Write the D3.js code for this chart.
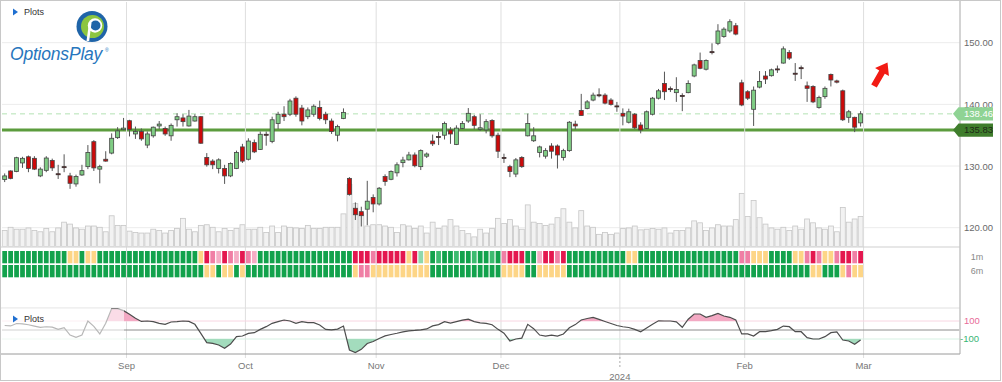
<!DOCTYPE html>
<html><head><meta charset="utf-8">
<script src="https://d3js.org/d3.v7.min.js"></script>
<style>
html,body{margin:0;padding:0;background:#fff;}
svg{display:block;font-family:"Liberation Sans",Arial,sans-serif;}
</style></head><body>
<svg id="chart" width="1002" height="382"></svg>
<script>
// ---------------- DATA ----------------
const dates = [
"2023-08-03","2023-08-04","2023-08-07","2023-08-08","2023-08-09","2023-08-10","2023-08-11","2023-08-14","2023-08-15","2023-08-16","2023-08-17","2023-08-18","2023-08-21","2023-08-22","2023-08-23","2023-08-24","2023-08-25","2023-08-28","2023-08-29","2023-08-30","2023-08-31",
"2023-09-01","2023-09-05","2023-09-06","2023-09-07","2023-09-08","2023-09-11","2023-09-12","2023-09-13","2023-09-14","2023-09-15","2023-09-18","2023-09-19","2023-09-20","2023-09-21","2023-09-22","2023-09-25","2023-09-26","2023-09-27","2023-09-28","2023-09-29",
"2023-10-02","2023-10-03","2023-10-04","2023-10-05","2023-10-06","2023-10-09","2023-10-10","2023-10-11","2023-10-12","2023-10-13","2023-10-16","2023-10-17","2023-10-18","2023-10-19","2023-10-20","2023-10-23","2023-10-24","2023-10-25","2023-10-26","2023-10-27","2023-10-30","2023-10-31",
"2023-11-01","2023-11-02","2023-11-03","2023-11-06","2023-11-07","2023-11-08","2023-11-09","2023-11-10","2023-11-13","2023-11-14","2023-11-15","2023-11-16","2023-11-17","2023-11-20","2023-11-21","2023-11-22","2023-11-24","2023-11-27","2023-11-28","2023-11-29","2023-11-30",
"2023-12-01","2023-12-04","2023-12-05","2023-12-06","2023-12-07","2023-12-08","2023-12-11","2023-12-12","2023-12-13","2023-12-14","2023-12-15","2023-12-18","2023-12-19","2023-12-20","2023-12-21","2023-12-22","2023-12-26","2023-12-27","2023-12-28","2023-12-29",
"2024-01-02","2024-01-03","2024-01-04","2024-01-05","2024-01-08","2024-01-09","2024-01-10","2024-01-11","2024-01-12","2024-01-16","2024-01-17","2024-01-18","2024-01-19","2024-01-22","2024-01-23","2024-01-24","2024-01-25","2024-01-26","2024-01-29","2024-01-30","2024-01-31",
"2024-02-01","2024-02-02","2024-02-05","2024-02-06","2024-02-07","2024-02-08","2024-02-09","2024-02-12","2024-02-13","2024-02-14","2024-02-15","2024-02-16","2024-02-20","2024-02-21","2024-02-22","2024-02-23","2024-02-26","2024-02-27","2024-02-28","2024-02-29"];

const open = [127.8,129.2,129.1,130.5,131.5,131.25,128.4,129.3,130.9,128.75,129.9,128.4,127.1,128.55,129.9,133.95,129.5,131.1,132.1,134.6,135.9,
137.35,135.2,135.6,133.4,134.9,136.5,136.1,134.9,137.5,137.8,136.5,137.3,138.0,131.4,130.8,129.6,129.6,128.4,129.6,133.1,
131.1,133.8,132.7,135.15,134.0,136.9,138.4,138.4,141.0,139.4,138.0,138.4,139.5,138.4,137.3,135.0,137.7,128.0,123.15,122.6,123.0,124.9,
123.85,128.3,127.85,128.9,130.55,131.0,131.8,129.9,131.6,134.05,134.8,135.0,135.85,133.5,136.1,137.3,138.0,135.95,135.85,137.4,135.0,
131.4,129.9,128.7,131.4,134.9,134.1,132.2,131.6,133.25,133.25,131.4,132.5,136.8,139.0,139.35,140.7,141.55,141.5,140.7,139.75,
138.55,137.1,138.4,136.65,136.1,138.4,141.0,143.4,142.55,141.9,141.45,141.9,144.6,147.1,145.7,148.55,149.9,151.0,151.9,152.75,143.5,
142.05,139.2,142.8,144.6,144.65,145.75,146.7,148.4,145.05,145.95,143.0,142.9,139.5,141.25,144.85,143.8,142.2,137.9,137.9,137.0];

const high = [128.8,129.3,131.5,131.5,131.7,131.6,129.8,131.6,131.2,130.2,131.9,128.9,128.6,130.2,133.4,134.2,130.2,132.4,135.3,136.3,137.8,
137.5,136.4,136.1,135.6,136.4,137.3,136.4,136.9,138.55,138.4,139.1,138.4,138.1,132.1,131.1,131.25,130.2,130.6,132.5,133.6,
134.5,134.3,135.6,135.6,138.0,138.8,139.7,140.9,141.3,139.9,139.5,140.0,140.6,138.8,137.7,136.7,139.35,128.2,124.1,123.4,127.6,125.4,
126.6,128.65,129.3,130.6,131.5,132.3,132.2,132.7,132.2,135.1,135.5,137.2,136.3,136.6,137.3,139.4,138.3,138.4,137.6,137.6,135.4,
132.0,130.2,131.3,131.6,138.5,136.3,133.3,132.9,133.7,133.5,132.8,137.3,137.35,141.7,140.7,141.9,142.6,141.8,141.0,140.4,
139.35,139.3,138.6,137.1,139.0,141.2,142.5,145.3,142.9,144.4,141.8,143.9,146.6,148.4,147.3,149.9,153.0,152.5,153.8,153.2,144.0,
142.3,142.9,145.4,145.4,145.8,146.3,149.4,148.8,146.7,146.3,143.7,143.1,141.4,142.9,145.0,144.0,142.4,139.1,138.0,138.9];

const low = [127.4,127.85,129.0,129.7,129.0,129.35,128.2,129.0,129.2,127.9,129.0,126.3,126.65,128.4,129.5,129.2,127.2,130.7,131.9,134.4,135.8,
134.8,134.4,134.1,132.9,134.6,136.0,134.9,134.1,136.4,136.4,136.4,137.2,133.6,129.9,129.5,128.8,127.1,128.2,129.5,130.5,
130.9,132.1,132.6,133.3,133.7,136.0,137.3,138.1,138.0,136.6,137.6,138.0,137.4,136.8,135.2,134.0,137.6,125.2,121.25,120.2,120.4,122.5,
123.6,126.8,127.7,128.3,129.8,130.9,129.8,129.35,131.3,133.25,133.4,134.3,133.6,133.4,136.0,137.0,135.95,135.7,135.3,134.6,131.3,
130.5,128.2,128.2,129.7,134.8,133.9,131.4,131.2,131.2,129.6,130.9,132.3,135.95,138.2,139.2,140.5,141.15,140.0,139.8,138.8,
136.6,136.9,136.0,135.3,136.0,138.2,140.8,140.7,142.0,140.4,138.9,141.8,144.4,145.7,145.5,148.1,149.6,150.8,151.6,151.2,139.7,
140.7,136.5,142.6,143.3,144.5,145.1,146.6,147.2,143.8,144.1,140.4,140.2,139.3,140.9,142.9,143.4,137.3,137.0,135.5,136.4];

const close = [128.4,128.0,131.35,131.25,129.6,129.5,129.5,131.3,129.7,128.7,129.84,127.2,128.3,129.25,132.2,129.7,129.9,130.8,134.5,135.7,136.15,
135.95,135.6,134.4,135.2,136.3,136.8,135.2,136.6,138.0,137.2,138.1,138.0,133.7,130.2,130.2,131.0,128.4,130.4,132.2,130.8,
134.05,132.3,135.15,135.1,137.5,138.4,138.0,140.55,138.4,137.3,139.1,139.7,137.7,137.5,135.6,136.4,138.7,125.4,122.1,121.95,124.3,123.85,
126.4,127.5,129.1,130.2,130.97,131.8,130.05,132.5,131.95,133.6,134.7,136.9,135.2,136.15,136.9,138.55,136.6,136.2,137.2,134.9,132.4,
131.3,129.1,131.0,129.9,136.9,134.9,133.1,132.5,132.4,131.8,132.5,137.1,136.5,138.2,140.4,141.5,141.5,140.2,140.0,139.7,
138.1,138.8,136.2,135.85,138.8,141.0,142.2,142.05,142.5,142.4,141.4,143.4,146.4,145.85,147.1,148.5,151.9,152.2,153.4,151.4,139.9,
141.0,142.3,143.7,144.1,145.6,145.7,149.0,147.5,145.0,145.9,142.6,140.4,141.1,142.6,143.95,143.6,137.5,138.8,136.3,138.46];

// volume, millions
const volume = [25,30,27,27,29,25,23,28,23,29,38,35,29,27,32,32,30,23,48,33,33,
24,22,21,21,27,25,21,25,28,44,27,23,33,34,30,23,28,25,28,34,
27,27,30,22,32,22,32,30,29,28,33,28,28,30,30,30,51,97,67,51,32,34,
34,32,30,22,34,32,28,32,21,38,28,32,42,32,25,20,15,27,21,28,44,
36,42,32,27,65,38,36,33,35,45,59,38,29,56,32,30,19,22,19,21,
28,29,32,26,27,28,27,29,21,25,25,29,40,37,25,29,34,32,32,42,83,
47,72,45,35,29,27,30,25,32,27,43,37,29,27,32,23,61,38,43,47];

// oscillator (CCI-style)
const osc = [50,45,72,67,58,44,30,36,32,7,26,-56,-81,-56,100,40,-44,74,245,245,215,
175,130,95,100,93,74,63,89,93,100,95,63,-37,-141,-148,-167,-204,-156,-74,-67,
-37,-30,7,37,74,93,111,100,74,93,81,81,56,7,2,10,44,-222,-250,-215,-150,-128,
-95,-66,-50,-36,-20,-9,-5,2,12,46,60,93,76,93,110,120,93,80,74,58,7,
-35,-122,-100,-90,63,15,-56,-67,-56,-67,-44,25,60,111,128,140,118,95,72,50,
36,28,7,-19,22,65,102,100,100,90,30,120,178,178,141,160,185,155,141,111,-44,
-44,-67,-19,-19,-7,7,44,37,-19,-19,-85,-100,-100,-74,-30,-22,-111,-122,-159,-111];

// signal cells: G dark green, m medium green, g light green, Y yellow, P pink, p light pink, R red
const signal1m = ("GGGGGGGGGGG"+"YY"+"G"+"YY"+"GGGGGGGGGGGGGGGGG"+"Y"+"RPpRPpRPp"+"GGGGGGGGGGGGGGGG"+
  "RRRPRRRRR"+"Y"+"R"+"g"+"Y"+"GmGGmGGmGGmG"+"PRRR"+"GG"+"pRRPR"+"GGGGGGGGGG"+"YY"+"GGGGGGGGGGGGGGGGG"+
  "PP"+"YYY"+"GGGG"+"YY"+"PRP"+"YY"+"PRRPR").split("");
const signal6m = ("GGGGGGGGGGGGGGGGGGGGGGGGGGGGGGGGGG"+"YY"+"G"+"YY"+"G"+"Y"+"GGGGGGGGGGGGGGGGGG"+
  "Y"+"PP"+"YYYYYYYYYY"+"GGGGGGGGGGGG"+"YYYY"+"GG"+"YYYYY"+
  "GGGGGGGGGGGGGGGGGGGGGGGGGGGGGGGGGGGGGGGGG"+"YY"+"GGG"+"Y"+"P"+"YY").split("");
const signalRows = ["1m","6m"];

const priceTicks = [120,130,140,150];
const monthKeys = ["2023-09","2023-10","2023-11","2023-12","2024-01","2024-02","2024-03"];
const monthLabels = ["Sep","Oct","Nov","Dec","2024","Feb","Mar"];
const supportLevel = 135.83;
const oscLevels = [100,-100];

// ---------------- CHART ----------------
const svg = d3.select("#chart");
const step = 5.944;
const x = d3.scaleBand().domain(dates).range([1.7, 1.7 + dates.length*step]).padding(0);
const xc = d => x(d) + x.bandwidth()/2;
const plotRight = 959.5;
const y = d3.scaleLinear().domain([120,150]).range([227.7, 42.7]);
const yVol = d3.scaleLinear().domain([0,100]).range([246.5, 182.5]);
const yOsc = d3.scaleLinear().domain([-100,100]).range([339, 321]);
const oscTop = 308, oscBot = 354;

const colorMap = {G:"#12a24c", m:"#3dbb70", g:"#8fd8ad", Y:"#fdd586", P:"#f07fa5", p:"#f5adc5", R:"#e4174f"};

const defs = svg.append("defs");
defs.append("clipPath").attr("id","mainClip").append("rect").attr("x",1.5).attr("y",1.5).attr("width",plotRight-1.5).attr("height",245);
defs.append("clipPath").attr("id","oscClip").append("rect").attr("x",1.5).attr("y",oscTop).attr("width",plotRight-1.5).attr("height",oscBot-oscTop);
defs.append("clipPath").attr("id","aboveClip").append("rect").attr("x",0).attr("y",oscTop).attr("width",plotRight).attr("height",yOsc(100)-oscTop);
defs.append("clipPath").attr("id","belowClip").append("rect").attr("x",0).attr("y",yOsc(-100)).attr("width",plotRight).attr("height",oscBot-yOsc(-100));

svg.append("rect").attr("width",1002).attr("height",382).attr("fill","#fff");

// price gridlines
svg.append("g").selectAll("line").data(priceTicks).join("line")
  .attr("x1",2).attr("x2",plotRight).attr("y1",d=>y(d)).attr("y2",d=>y(d))
  .attr("stroke","#ececec").attr("stroke-width",1);

// month boundaries
const monthPos = monthKeys.map(k => {
  const i = dates.findIndex(d => d.startsWith(k));
  return i >= 0 ? x(dates[i]) : x.range()[1];
});

const main = svg.append("g").attr("clip-path","url(#mainClip)");

// volume
main.append("g").selectAll("rect").data(dates).join("rect")
  .attr("x",d=>x(d)+0.5).attr("width",x.bandwidth()-1)
  .attr("y",(d,i)=>yVol(volume[i])).attr("height",(d,i)=>yVol(0)-yVol(volume[i]))
  .attr("fill","#f2f2f2").attr("stroke","#c6c6c6").attr("stroke-width",0.8);

// month lines
svg.append("g").selectAll("line").data(monthPos).join("line")
  .attr("x1",d=>d).attr("x2",d=>d).attr("y1",2).attr("y2",358)
  .attr("stroke","#dedede").attr("stroke-width",1);

// last price dashed line
const last = close[close.length-1];
main.append("line").attr("x1",2).attr("x2",953).attr("y1",y(last)).attr("y2",y(last))
  .attr("stroke","#b3e2b3").attr("stroke-width",1).attr("stroke-dasharray","5,4");
// support line
main.append("line").attr("x1",2).attr("x2",plotRight).attr("y1",y(supportLevel)).attr("y2",y(supportLevel))
  .attr("stroke","#5c9c3d").attr("stroke-width",3);

// candles
const cg = main.append("g").selectAll("g").data(dates).join("g");
cg.append("line").attr("x1",d=>xc(d)).attr("x2",d=>xc(d))
  .attr("y1",(d,i)=>y(high[i])).attr("y2",(d,i)=>y(low[i]))
  .attr("stroke","#555").attr("stroke-width",1);
cg.append("rect")
  .attr("x",d=>xc(d)-2).attr("width",4)
  .attr("y",(d,i)=>Math.min(y(open[i]),y(close[i])))
  .attr("height",(d,i)=>Math.max(1,Math.abs(y(open[i])-y(close[i]))))
  .attr("fill",(d,i)=>close[i]>=open[i]?"#7fcc84":"#cc0a0a")
  .attr("stroke",(d,i)=>Math.abs(close[i]-open[i])<0.12?"#333":"#444")
  .attr("stroke-width",0.8);

// panel separators
svg.append("line").attr("x1",1).attr("x2",plotRight).attr("y1",247).attr("y2",247).attr("stroke","#cfcfcf");
svg.append("line").attr("x1",1).attr("x2",plotRight).attr("y1",oscTop).attr("y2",oscTop).attr("stroke","#e0e0e0");

// signal cells
const rowY = [251, 265];
[signal1m, signal6m].forEach((row, r) => {
  svg.append("g").selectAll("rect").data(dates).join("rect")
    .attr("x",d=>x(d)+0.6).attr("width",x.bandwidth()-1.2)
    .attr("y",rowY[r]).attr("height",12.3)
    .attr("fill",(d,i)=>colorMap[row[i]]);
});
svg.append("g").selectAll("text").data(signalRows).join("text")
  .attr("x",977).attr("y",(d,i)=>rowY[i]+9).attr("text-anchor","middle")
  .attr("font-size",9).attr("fill","#8a8a8a").text(d=>d);

// oscillator panel
const og = svg.append("g").attr("clip-path","url(#oscClip)");
og.append("line").attr("x1",2).attr("x2",plotRight).attr("y1",yOsc(100)).attr("y2",yOsc(100)).attr("stroke","#f8d6e2");
og.append("line").attr("x1",2).attr("x2",plotRight).attr("y1",yOsc(-100)).attr("y2",yOsc(-100)).attr("stroke","#d6f1e3");
const oy = v => Math.max(oscTop+0.6, Math.min(oscBot-0.6, yOsc(v)));
og.append("g").attr("clip-path","url(#aboveClip)").append("path").datum(osc)
  .attr("d", d3.area().x((d,i)=>xc(dates[i])).y0(yOsc(100)).y1(d=>oy(d)))
  .attr("fill","#f3a9c3");
og.append("g").attr("clip-path","url(#belowClip)").append("path").datum(osc)
  .attr("d", d3.area().x((d,i)=>xc(dates[i])).y0(yOsc(-100)).y1(d=>oy(d)))
  .attr("fill","#a3dcbd");
og.append("line").attr("x1",2).attr("x2",plotRight).attr("y1",yOsc(0)).attr("y2",yOsc(0)).attr("stroke","#8c8c8c");
og.append("path").datum(osc)
  .attr("d", d3.line().x((d,i)=>xc(dates[i])).y(d=>oy(d)))
  .attr("fill","none").attr("stroke","#4d4d4d").attr("stroke-width",1.2);
og.append("rect").attr("x",1.5).attr("y",oscTop+0.5).attr("width",monthPos[0]-4).attr("height",oscBot-oscTop-1)
  .attr("fill","#fff").attr("opacity",0.6);
svg.append("line").attr("x1",1).attr("x2",plotRight+0.5).attr("y1",oscBot).attr("y2",oscBot).attr("stroke","#9a9a9a");

// right axis line
svg.append("line").attr("x1",plotRight+0.5).attr("x2",plotRight+0.5).attr("y1",1).attr("y2",oscBot).attr("stroke","#a8a8a8");

// y tick labels
svg.append("g").selectAll("text").data(priceTicks).join("text")
  .attr("x",964).attr("y",d=>y(d)+3.5).attr("font-size",9.5).attr("fill","#6a6a6a")
  .text(d=>d.toFixed(2));

// osc level labels
svg.append("g").selectAll("text").data(oscLevels).join("text")
  .attr("x",d=>d>0?964:960).attr("y",d=>yOsc(d)+3.3).attr("font-size",9.5)
  .attr("fill",d=>d>0?"#e86a98":"#37b574").text(d=>d);

// price flags
function flag(v, fill, txtColor){
  const yc = y(v);
  svg.append("path")
    .attr("d",`M953,${yc} L958.5,${yc-6.6} L993,${yc-6.6} L993,${yc+6.6} L958.5,${yc+6.6} Z`)
    .attr("fill",fill);
  svg.append("text").attr("x",964).attr("y",yc+3.4).attr("font-size",9.5).attr("fill",txtColor).text(v.toFixed(2));
}
flag(last, "#8fd394", "#ffffff");
flag(supportLevel, "#3f7d2c", "#1d2a17");

// x labels
monthLabels.forEach((lab,i)=>{
  const px = monthPos[i];
  const isYear = /^\d{4}$/.test(lab);
  if (isYear) {
    svg.append("line").attr("x1",px).attr("x2",px).attr("y1",357).attr("y2",368)
      .attr("stroke","#aaa").attr("stroke-dasharray","2,2");
  }
  svg.append("text").attr("x",px).attr("y",isYear?379.5:369).attr("text-anchor","middle")
    .attr("font-size",9.5).attr("fill","#777").text(lab);
});

// "Plots" legends
function plotsLabel(yy){
  svg.append("path").attr("d",`M13,${yy-3.5} L18,${yy} L13,${yy+3.5} Z`).attr("fill","#1f6fd1");
  svg.append("text").attr("x",24).attr("y",yy+3.2).attr("font-size",9).attr("fill","#333").text("Plots");
}
plotsLabel(12);
plotsLabel(319);

// logo
const logo = svg.append("g");
logo.append("circle").attr("cx",92).attr("cy",26.5).attr("r",15.5).attr("fill","#1f64a8");
logo.append("circle").attr("cx",92.5).attr("cy",26.5).attr("r",11.5).attr("fill","#8cc640");
logo.append("circle").attr("cx",95).attr("cy",25.5).attr("r",7.2).attr("fill","#ffffff");
logo.append("circle").attr("cx",95.5).attr("cy",25.5).attr("r",5).attr("fill","#1f64a8");
logo.append("path").attr("d","M86.5,41 L89,23 L91.5,23 L89.2,41 Z").attr("fill","#ffffff");
logo.append("text").attr("x",10).attr("y",60).attr("font-size",17.5).attr("font-style","italic")
  .attr("fill","#2776bd").attr("letter-spacing",-0.2).text("OptionsPlay");
logo.append("text").attr("x",105).attr("y",52).attr("font-size",5).attr("fill","#2776bd").text("®");

// red arrow
(function(){
  const tail=[874,86], tip=[887.5,62.5];
  const dx=tip[0]-tail[0], dy=tip[1]-tail[1], L=Math.hypot(dx,dy);
  const ux=dx/L, uy=dy/L, nx=-uy, ny=ux;
  const hl=11, sw=3.2, hw=8;
  const nk=[tip[0]-ux*hl, tip[1]-uy*hl];
  const pts=[
    [tail[0]+nx*sw, tail[1]+ny*sw],[nk[0]+nx*sw, nk[1]+ny*sw],[nk[0]+nx*hw, nk[1]+ny*hw],
    tip,[nk[0]-nx*hw, nk[1]-ny*hw],[nk[0]-nx*sw, nk[1]-ny*sw],[tail[0]-nx*sw, tail[1]-ny*sw]];
  svg.append("path").attr("d","M"+pts.map(p=>p.join(",")).join("L")+"Z").attr("fill","#f21b14");
})();

// outer border
svg.append("rect").attr("x",0.5).attr("y",0.5).attr("width",1000).attr("height",380)
  .attr("fill","none").attr("stroke","#c8c8c8");
</script>
</body></html>
